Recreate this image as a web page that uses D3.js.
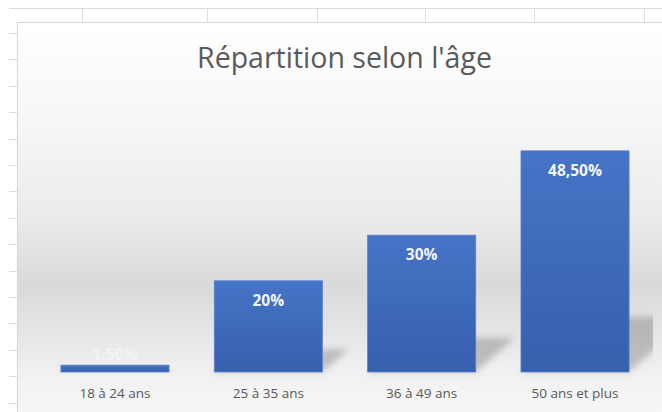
<!DOCTYPE html>
<html>
<head>
<meta charset="utf-8">
<script src="https://cdn.jsdelivr.net/npm/d3@7"></script>
<style>
  html, body { margin: 0; padding: 0; background: #ffffff; }
  svg { display: block; }
</style>
</head>
<body>
<svg id="chart" width="662" height="412"></svg>
<script>
// ---- data ----
const categories = ["18 à 24 ans", "25 à 35 ans", "36 à 49 ans", "50 ans et plus"];
const values = [1.5, 20, 30, 48.5];
const valueLabels = ["1,50%", "20%", "30%", "48,50%"];
const title = "Répartition selon l'âge";
const yMax = 60;

// ---- layout ----
const W = 662, H = 412;
const chartBox = { x: 17, y: 22, w: 700, h: 420 };
const plot = { left: 38.3, right: 651.7, top: 98.4, bottom: 372 };
const sheetCols = [82, 207, 317, 425, 534, 644];

const svg = d3.select("#chart");
const defs = svg.append("defs");

// background gradient of chart area
const bg = defs.append("linearGradient").attr("id", "bgGrad")
  .attr("gradientUnits", "userSpaceOnUse")
  .attr("x1", 0).attr("y1", chartBox.y).attr("x2", 0).attr("y2", H);
[[0, "#ffffff"], [0.25, "#f7f7f7"], [0.5, "#ebebeb"], [0.68, "#d9d9d9"], [0.8, "#e6e6e6"], [0.92, "#f2f2f2"], [1, "#f6f6f6"]]
  .forEach(([o, c]) => bg.append("stop").attr("offset", o).attr("stop-color", c));

const barGrad = defs.append("linearGradient").attr("id", "barGrad")
  .attr("x1", 0).attr("y1", 0).attr("x2", 0).attr("y2", 1);
barGrad.append("stop").attr("offset", 0).attr("stop-color", "#4674c6");
barGrad.append("stop").attr("offset", 1).attr("stop-color", "#3760ae");

const blur = defs.append("filter").attr("id", "blur")
  .attr("x", "-50%").attr("y", "-50%").attr("width", "200%").attr("height", "200%");
blur.append("feGaussianBlur").attr("stdDeviation", 3);

defs.append("clipPath").attr("id", "plotClip")
  .append("rect").attr("x", 17).attr("y", 22).attr("width", 653 - 17).attr("height", H);

// ---- spreadsheet background ----
const sheet = svg.append("g").attr("stroke", "#dedede").attr("stroke-width", 1);
sheet.append("line").attr("x1", 9).attr("x2", W).attr("y1", 8.5).attr("y2", 8.5);
sheetCols.forEach(x => sheet.append("line").attr("x1", x + 0.5).attr("x2", x + 0.5).attr("y1", 8).attr("y2", chartBox.y));
d3.range(0, 15).forEach(k => {
  const y = Math.round(33 + k * 26.4) + 0.5;
  sheet.append("line").attr("x1", 9).attr("x2", chartBox.x).attr("y1", y).attr("y2", y);
});

// ---- chart area ----
svg.append("rect")
  .attr("x", chartBox.x + 0.5).attr("y", chartBox.y + 0.5)
  .attr("width", chartBox.w).attr("height", chartBox.h)
  .attr("fill", "url(#bgGrad)")
  .attr("stroke", "#d9d9d9").attr("stroke-width", 1.2);

// title
svg.append("text")
  .attr("x", 344.5).attr("y", 68)
  .attr("text-anchor", "middle")
  .attr("font-family", "'Open Sans', sans-serif")
  .attr("font-size", 28.5)
  .attr("fill", "#5a5a5a")
  .text(title);

// ---- scales ----
const x = d3.scaleBand().domain(categories)
  .range([plot.left, plot.right]).paddingInner(0.295).paddingOuter(0.1475);
const y = d3.scaleLinear().domain([0, yMax]).range([plot.bottom, plot.top]);

const data = categories.map((c, i) => ({ c, v: values[i], label: valueLabels[i] }));

// shadows (perspective, behind bars)
const skew = 1.15, shScale = 0.25;
svg.append("g").attr("clip-path", "url(#plotClip)")
  .selectAll("path").data(data).join("path")
  .attr("d", d => {
    const x0 = x(d.c), x1 = x0 + x.bandwidth();
    const base = y(0);
    const sh = (base - y(d.v)) * shScale;
    return `M${x0},${base} L${x1},${base} L${x1 + skew * sh},${base - sh} L${x0 + skew * sh},${base - sh} Z`;
  })
  .attr("fill", "#000").attr("fill-opacity", 0.2)
  .attr("filter", "url(#blur)");

// bars
svg.append("g").selectAll("rect").data(data).join("rect")
  .attr("x", d => x(d.c))
  .attr("y", d => y(d.v))
  .attr("width", x.bandwidth())
  .attr("height", d => y(0) - y(d.v))
  .attr("fill", "url(#barGrad)")
  .attr("stroke", "#5a82cc").attr("stroke-width", 0.8);

// value labels
svg.append("g").selectAll("text").data(data).join("text")
  .attr("x", d => x(d.c) + x.bandwidth() / 2)
  .attr("y", d => {
    const top = y(d.v);
    return (y(0) - top) < 30 ? top - 5 : top + 25;
  })
  .attr("text-anchor", "middle")
  .attr("font-family", "'Open Sans', sans-serif")
  .attr("font-weight", "bold")
  .attr("font-size", 15.5)
  .attr("fill", "#ffffff")
  .attr("fill-opacity", d => (y(0) - y(d.v)) < 30 ? 0.45 : 0.95)
  .text(d => d.label);

// category axis labels
svg.append("g").selectAll("text").data(categories).join("text")
  .attr("x", d => x(d) + x.bandwidth() / 2)
  .attr("y", 398)
  .attr("text-anchor", "middle")
  .attr("font-family", "'Open Sans', sans-serif")
  .attr("font-size", 13.5)
  .attr("fill", "#595959")
  .text(d => d);
</script>
</body>
</html>
